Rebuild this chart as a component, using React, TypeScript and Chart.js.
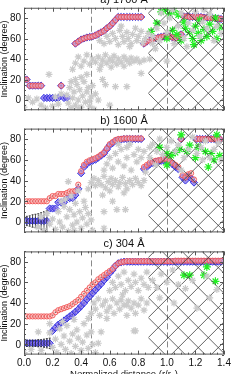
import React, { useEffect, useRef } from "react";
import { Chart, registerables } from "chart.js";
Chart.register(...registerables);

type P = [number, number];

const W = 249;
const H = 374;
const X_MIN = 0;
const X_MAX = 1.4;
const Y_MIN = -10;
const Y_MAX = 90;
const xTicks = [0, 0.2, 0.4, 0.6, 0.8, 1.0, 1.2, 1.4];
const xTickLabels = ["0.0", "0.2", "0.4", "0.6", "0.8", "1.0", "1.2", "1.4"];
const yTicks = [0, 20, 40, 60, 80];
const yTickLabels = ["0", "20", "40", "60", "80"];
const dashedX = [0.47, 1.0];
const hatchStart = 0.87;
const titles = ["a) 1700 Å", "b) 1600 Å", "c) 304 Å"];
const yTitle = "Inclination (degree)";
const xTitle = "Normalized distance (r/r\u2080)";

// ---------- panel a : 1700 ----------
const lineA: P[] = [
  [0.0, 20], [0.018, 20],
  [0.04, 14], [0.06, 14], [0.08, 14], [0.1, 14], [0.12, 14],
  [0.26, 14],
  [0.36, 55], [0.38, 57], [0.4, 59], [0.42, 60], [0.44, 61], [0.46, 61.5], [0.48, 62], [0.5, 63],
  [0.52, 64.5], [0.54, 66], [0.56, 67.5], [0.58, 70], [0.6, 72], [0.62, 75], [0.64, 78], [0.66, 81],
  [0.68, 81], [0.7, 81], [0.72, 81], [0.74, 81], [0.76, 81], [0.78, 81], [0.8, 81], [0.82, 81],
  [0.84, 55], [0.86, 57], [0.88, 58], [0.9, 59], [0.92, 60], [0.94, 61], [0.96, 61.5], [0.98, 62],
  [1.0, 62], [1.02, 62], [1.04, 61], [1.06, 60], [1.08, 62], [1.1, 64],
  [1.12, 81.5], [1.14, 81.5], [1.16, 81], [1.18, 81], [1.2, 81], [1.22, 81], [1.24, 81], [1.26, 80.5],
  [1.28, 80.5], [1.3, 80], [1.32, 80], [1.34, 79.5], [1.36, 79.5], [1.38, 79],
];
const blueOnlyA: P[] = [
  [0.14, 2], [0.16, 2], [0.18, 2], [0.2, 2], [0.22, 2], [0.24, 2], [0.28, 2], [0.3, 2],
];
const grayA: P[] = [
  [0.0, -7], [0.03, 2], [0.06, -2], [0.09, 1], [0.12, -5], [0.15, -8], [0.175, 25], [0.2, -6], [0.22, 3], [0.24, -4], [0.26, 6],
  [0.3, 5], [0.31, -3], [0.32, 12], [0.33, -8], [0.34, 2], [0.35, 8], [0.36, -5], [0.37, 15], [0.38, 0], [0.39, 10],
  [0.4, -7], [0.41, 4], [0.42, 18], [0.43, -2], [0.44, 8], [0.45, 12], [0.46, -6], [0.47, 3], [0.48, 14], [0.49, -9],
  [0.5, 6], [0.52, 0], [0.36, 20], [0.4, 22], [0.44, 25], [0.33, 18], [0.46, -1], [0.38, -9],
  [0.34, 30], [0.36, 36], [0.38, 42], [0.4, 33], [0.42, 38], [0.44, 44], [0.46, 35], [0.48, 40], [0.5, 37], [0.52, 42],
  [0.54, 34], [0.55, 39], [0.57, 44], [0.58, 36], [0.6, 40], [0.62, 38], [0.63, 43], [0.65, 35], [0.66, 40], [0.68, 37],
  [0.7, 42], [0.72, 39], [0.74, 36], [0.75, 41], [0.77, 38], [0.79, 40], [0.81, 37], [0.84, 39], [0.88, 40], [1.0, 38],
  [0.53, 30], [0.61, 32], [0.7, 33],
  [0.53, 58], [0.56, 55], [0.58, 62], [0.6, 57], [0.62, 65], [0.64, 60], [0.66, 54], [0.67, 68], [0.69, 62], [0.7, 57],
  [0.72, 66], [0.73, 60], [0.75, 55], [0.76, 64], [0.78, 70], [0.79, 58], [0.8, 62], [0.82, 67], [0.83, 56], [0.85, 60],
  [0.74, 52], [0.68, 72], [0.87, 65], [0.9, 55],
  [0.57, 15], [0.64, 13], [0.72, 13], [0.82, 26], [0.6, -5], [0.55, 20],
  [0.9, 62], [0.93, 70], [0.95, 58], [0.98, 75], [1.0, 66], [1.02, 80], [1.05, 55], [1.08, 72], [1.1, 85], [1.12, 60],
  [1.15, 75], [1.18, 68], [1.2, 86], [1.23, 62], [1.25, 76], [1.28, 70], [1.3, 84], [1.33, 58], [1.35, 72], [1.38, 65],
  [0.96, 85], [1.04, 88], [1.26, 88], [0.92, 50], [1.14, 52],
];
const greenA: P[] = [
  [0.89, 67], [0.96, 86], [0.99, 88], [1.02, 84], [1.05, 87], [1.08, 83], [1.04, 68], [1.07, 64], [1.1, 58], [1.13, 70],
  [1.16, 66], [1.18, 60], [1.2, 72], [1.22, 65], [1.24, 58], [1.26, 69], [1.28, 62], [1.3, 74], [1.32, 67], [1.35, 60],
  [1.37, 71], [1.12, 76], [1.23, 78], [0.93, 75], [1.0, 60], [1.34, 80], [1.19, 54],
];

// ---------- panel b : 1600 ----------
const redB: P[] = [
  [0.02, 20], [0.04, 20], [0.06, 20], [0.08, 20], [0.1, 20], [0.12, 20], [0.14, 20], [0.16, 20],
  [0.18, 23], [0.2, 25], [0.22, 25], [0.24, 27], [0.26, 27], [0.28, 27], [0.3, 28], [0.32, 29.5], [0.34, 29.5], [0.36, 30], [0.38, 36],
  [0.4, 49], [0.42, 55], [0.44, 58], [0.46, 59.5], [0.48, 60.5], [0.5, 61.5], [0.52, 63], [0.54, 65], [0.56, 67], [0.58, 71],
  [0.6, 75], [0.62, 77], [0.64, 79], [0.66, 80], [0.68, 80], [0.7, 80.5], [0.72, 80.5], [0.74, 80.5], [0.76, 80.5], [0.78, 80.5],
  [0.8, 80.5], [0.82, 80.5],
  [0.84, 53], [0.86, 55], [0.88, 57], [0.9, 58], [0.92, 59], [0.94, 59.5], [0.96, 60], [0.98, 61], [1.0, 60.5], [1.02, 59],
  [1.04, 57], [1.06, 55], [1.08, 53],
  [1.11, 45], [1.13, 43], [1.15, 46], [1.17, 47], [1.19, 41],
  [1.1, 80],
  [1.21, 80], [1.23, 80], [1.25, 80], [1.27, 80], [1.29, 80], [1.31, 80], [1.33, 80], [1.35, 80], [1.37, 80],
];
const blueBLow: P[] = [
  [0.02, 1], [0.04, 1], [0.06, 1], [0.08, 1], [0.1, 1], [0.12, 1], [0.14, 1], [0.16, 1],
];
const errB = [4.5, 5, 6, 6.5, 7, 8, 9, 10];
const blueB: P[] = [
  [0.18, 13], [0.2, 13], [0.22, 13], [0.24, 19], [0.26, 19], [0.28, 19], [0.3, 23], [0.32, 23], [0.34, 23], [0.36, 26], [0.38, 32],
  [0.4, 47], [0.42, 53], [0.44, 56], [0.46, 58], [0.48, 59], [0.5, 60], [0.52, 62], [0.54, 64], [0.56, 66], [0.58, 70],
  [0.6, 74], [0.62, 76], [0.64, 78], [0.66, 79], [0.68, 79.5], [0.7, 80], [0.72, 80], [0.74, 80], [0.76, 80], [0.78, 80],
  [0.8, 80], [0.82, 80],
  [0.84, 51], [0.86, 53], [0.88, 55.5], [0.9, 57], [0.92, 58], [0.94, 58.5], [0.96, 59], [0.98, 59.5], [1.0, 59], [1.02, 57.5],
  [1.04, 55.5], [1.06, 53], [1.08, 51],
  [1.11, 43], [1.13, 40], [1.15, 44], [1.17, 42], [1.19, 38],
  [1.1, 80],
  [1.21, 80], [1.23, 80], [1.25, 80], [1.27, 80], [1.29, 80], [1.31, 80], [1.33, 80], [1.35, 80], [1.37, 80],
];
const grayB: P[] = [
  [0.1, -5], [0.12, 5], [0.14, -8], [0.16, 8], [0.18, -2], [0.2, 3], [0.22, -7], [0.24, 10], [0.25, 0], [0.27, -5],
  [0.28, 15], [0.3, 5], [0.31, -9], [0.32, 12], [0.34, -3], [0.35, 7], [0.36, 18], [0.37, 0], [0.39, 10], [0.4, -6],
  [0.41, 4], [0.43, 14], [0.44, -2], [0.45, 8], [0.47, 2], [0.48, -8], [0.29, 22], [0.33, 25], [0.42, 20], [0.38, 30],
  [0.31, 39], [0.26, 20],
  [0.45, 32], [0.47, 38], [0.49, 42], [0.5, 35], [0.52, 40], [0.54, 36], [0.56, 44], [0.57, 33], [0.59, 39], [0.61, 42],
  [0.62, 36], [0.64, 40], [0.66, 34], [0.67, 38], [0.69, 43], [0.71, 37], [0.72, 32], [0.74, 40], [0.76, 36], [0.78, 42],
  [0.8, 38], [0.82, 35], [0.84, 40], [0.6, 30], [0.7, 28], [0.55, 26],
  [0.56, 50], [0.58, 56], [0.6, 62], [0.62, 52], [0.64, 66], [0.66, 58], [0.68, 70], [0.7, 54], [0.72, 62], [0.74, 75],
  [0.75, 50], [0.77, 65], [0.79, 58], [0.8, 70], [0.82, 62], [0.84, 68], [0.85, 48], [0.72, 72], [0.88, 72], [0.66, 75],
  [0.56, 10], [0.65, 12], [0.71, 12], [0.56, -6], [0.35, -8], [0.62, 20],
  [0.88, 62], [0.9, 75], [0.93, 68], [0.95, 80], [0.97, 65], [1.0, 72], [1.03, 78], [1.06, 68], [1.08, 74], [1.12, 62],
  [1.15, 70], [1.18, 82], [1.21, 66], [1.24, 72], [1.27, 78], [1.3, 62], [1.33, 70], [1.36, 76], [1.38, 60], [0.92, 55],
  [1.25, 60], [1.1, 50],
];
const greenB: P[] = [
  [1.1, 84], [1.35, 84], [1.0, 66], [1.03, 64], [1.06, 67], [1.14, 68], [1.16, 74], [1.22, 72], [1.27, 68], [1.31, 66],
  [1.37, 64], [1.29, 53], [1.0, 55], [1.2, 62], [1.33, 60], [1.09, 70], [0.95, 72],
];

// ---------- panel c : 304 ----------
const redC: P[] = [
  [0.02, 27], [0.04, 27], [0.06, 27], [0.08, 27], [0.1, 27], [0.12, 27], [0.14, 27], [0.16, 27], [0.18, 27],
  [0.2, 28], [0.22, 31], [0.24, 33], [0.26, 34], [0.28, 35], [0.3, 36], [0.32, 37], [0.34, 39], [0.36, 41], [0.38, 43],
  [0.4, 46], [0.42, 49], [0.44, 52], [0.46, 55], [0.48, 58], [0.5, 60], [0.52, 63], [0.54, 65], [0.56, 67], [0.58, 69],
  [0.6, 71], [0.62, 73], [0.64, 76], [0.66, 78.5], [0.68, 79.5], [0.7, 80], [0.72, 80.5], [0.74, 80.5], [0.76, 80.5],
  [0.78, 80.5], [0.8, 80.5], [0.82, 80.5], [0.84, 80.5], [0.86, 80.5], [0.88, 80.5], [0.9, 80.5], [0.92, 80.5], [0.94, 80.5],
  [0.96, 80.5], [0.98, 80.5], [1.0, 80.5], [1.02, 80.5], [1.04, 80.5], [1.06, 81], [1.08, 81], [1.1, 81], [1.12, 81],
  [1.14, 81], [1.16, 81], [1.18, 81], [1.2, 81], [1.22, 81], [1.24, 81], [1.26, 81], [1.28, 81], [1.3, 81], [1.32, 81],
  [1.34, 81], [1.36, 81], [1.38, 81],
];
const blueCLow: P[] = [
  [0.02, 1], [0.04, 1], [0.06, 1], [0.08, 1], [0.1, 1], [0.12, 1], [0.14, 1], [0.16, 1], [0.18, 1],
];
const errC = [3, 3, 3, 3, 3.5, 3.5, 4, 4.5, 5];
const blueC: P[] = [
  [0.2, 13], [0.22, 16], [0.24, 19], [0.26, 21], [0.28, 23], [0.3, 25], [0.32, 27], [0.34, 29], [0.36, 31.5], [0.38, 34],
  [0.4, 37], [0.42, 40], [0.44, 43.5], [0.46, 46.5], [0.48, 49.5], [0.5, 52.5], [0.52, 55.5], [0.54, 58.5], [0.56, 62],
  [0.58, 65], [0.6, 69], [0.62, 72], [0.64, 76], [0.66, 78.5], [0.68, 79.5], [0.7, 80], [0.72, 80], [0.74, 80], [0.76, 80],
  [0.78, 80], [0.8, 80], [0.82, 80], [0.84, 80], [0.86, 80], [0.88, 80], [0.9, 80], [0.92, 80], [0.94, 80], [0.96, 80],
  [0.98, 80], [1.0, 80], [1.02, 80], [1.04, 80], [1.06, 80], [1.08, 80], [1.1, 80], [1.12, 80], [1.14, 80], [1.16, 80],
  [1.18, 80], [1.2, 80], [1.22, 80], [1.24, 80], [1.26, 80], [1.28, 80], [1.3, 80], [1.32, 80], [1.34, 80], [1.36, 80], [1.38, 80],
];
const grayC: P[] = [
  [0.0, -8], [0.05, -5], [0.1, 12], [0.12, -6], [0.18, 20], [0.18, 11], [0.2, -3], [0.22, 5], [0.23, -8], [0.25, 15],
  [0.26, 0], [0.28, 8], [0.29, -5], [0.3, 18], [0.32, 3], [0.33, -9], [0.34, 10], [0.36, -2], [0.37, 14], [0.38, 6],
  [0.4, -6], [0.41, 2], [0.42, 20], [0.44, 9], [0.45, -4], [0.47, 12], [0.48, 0], [0.5, -8], [0.35, 24], [0.27, 22],
  [0.47, 30], [0.49, 40], [0.5, 34], [0.52, 44], [0.53, 28], [0.55, 38], [0.57, 42], [0.58, 32], [0.6, 36], [0.62, 44],
  [0.63, 30], [0.65, 40], [0.67, 34], [0.68, 43], [0.7, 38], [0.72, 28], [0.73, 42], [0.75, 35], [0.77, 40], [0.78, 30],
  [0.8, 38], [0.82, 44], [0.84, 33], [0.86, 40], [0.45, 25], [0.58, 25],
  [0.6, 52], [0.62, 60], [0.64, 55], [0.66, 66], [0.68, 58], [0.7, 70], [0.71, 52], [0.73, 62], [0.75, 56], [0.77, 68],
  [0.78, 60], [0.8, 52], [0.82, 64], [0.84, 58], [0.86, 70], [0.87, 55], [0.72, 38], [0.69, 48],
  [0.54, 12], [0.78, 13], [0.52, 1], [0.77, 13],
  [0.9, 62], [0.93, 55], [0.96, 68], [1.0, 60], [1.04, 72], [1.08, 58], [1.13, 54], [1.21, 35], [1.28, 66], [1.35, 53],
  [1.18, 62], [1.3, 45], [0.95, 45], [1.05, 40],
];
const greenC: P[] = [[1.12, 67], [1.16, 67], [1.26, 67], [1.28, 75], [1.34, 61]];

interface Panel {
  title: string;
  top: number;
  bottom: number;
  gray: P[];
  green: P[];
  red: P[];
  blue: P[];
  low: P[];
  err: number[];
  showX: boolean;
}

const panels: Panel[] = [
  { title: titles[0], top: 7.75, bottom: 110.25, gray: grayA, green: greenA, red: lineA, blue: [...lineA, ...blueOnlyA], low: [], err: [], showX: false },
  { title: titles[1], top: 128.6, bottom: 232.4, gray: grayB, green: greenB, red: redB, blue: [...blueBLow, ...blueB], low: blueBLow, err: errB, showX: false },
  { title: titles[2], top: 251.4, bottom: 354.6, gray: grayC, green: greenC, red: redC, blue: [...blueCLow, ...blueC], low: blueCLow, err: errC, showX: true },
];

const FONT = "'Liberation Sans', Arial, Helvetica, sans-serif";
const toXY = (a: P[]) => a.map(([x, y]) => ({ x, y }));

function makePlugin(p: Panel) {
  return {
    id: "idlPanel",
    beforeDatasetsDraw(chart: any) {
      const { ctx, chartArea: a, scales } = chart;
      ctx.save();
      ctx.beginPath();
      ctx.rect(a.left, a.top, a.right - a.left, a.bottom - a.top);
      ctx.clip();
      ctx.strokeStyle = "#8a8a8a";
      ctx.lineWidth = 1;
      ctx.setLineDash([6, 3]);
      for (const v of dashedX) {
        const px = Math.round(scales.x.getPixelForValue(v)) + 0.5;
        ctx.beginPath();
        ctx.moveTo(px, a.top);
        ctx.lineTo(px, a.bottom);
        ctx.stroke();
      }
      ctx.restore();
    },
    afterDatasetDraw(chart: any, args: any) {
      if (args.index !== 1) return;
      const { ctx, chartArea: a, scales } = chart;
      const xl = scales.x.getPixelForValue(hatchStart);
      const xr = a.right;
      ctx.save();
      ctx.beginPath();
      ctx.rect(xl, a.top, xr - xl, a.bottom - a.top);
      ctx.clip();
      ctx.strokeStyle = "#3c3c3c";
      ctx.lineWidth = 0.8;
      const S = 20;
      const y0 = a.bottom - 17;
      const w = xr - xl;
      ctx.beginPath();
      for (let k = -12; k <= 12; k++) {
        const yy = y0 + k * S;
        ctx.moveTo(xl, yy);
        ctx.lineTo(xr, yy - w);
        ctx.moveTo(xl, yy);
        ctx.lineTo(xr, yy + w);
      }
      ctx.stroke();
      ctx.restore();
      ctx.save();
      ctx.beginPath();
      ctx.rect(a.left, a.top, a.right - a.left, a.bottom - a.top);
      ctx.clip();
      ctx.strokeStyle = "#222";
      ctx.lineWidth = 0.8;
      ctx.beginPath();
      p.low.forEach(([x, y], i) => {
        const e = p.err[i];
        const px = scales.x.getPixelForValue(x);
        const yt = scales.y.getPixelForValue(y + e);
        const yb = scales.y.getPixelForValue(y - e);
        ctx.moveTo(px, yt);
        ctx.lineTo(px, yb);
        ctx.moveTo(px - 1, yt);
        ctx.lineTo(px + 1, yt);
        ctx.moveTo(px - 1, yb);
        ctx.lineTo(px + 1, yb);
      });
      ctx.stroke();
      ctx.restore();
    },
    afterDraw(chart: any) {
      const { ctx, chartArea: a, scales } = chart;
      const xs = scales.x;
      const ys = scales.y;
      ctx.save();
      ctx.strokeStyle = "#555";
      ctx.lineWidth = 1;
      ctx.strokeRect(a.left + 0.5, a.top + 0.5, a.right - a.left - 1, a.bottom - a.top - 1);
      ctx.beginPath();
      for (let v = X_MIN; v <= X_MAX + 1e-9; v += 0.05) {
        const isMajor = xTicks.some((t) => Math.abs(t - v) < 1e-6);
        const len = isMajor ? 4 : 2;
        const px = Math.round(xs.getPixelForValue(v)) + 0.5;
        ctx.moveTo(px, a.bottom);
        ctx.lineTo(px, a.bottom - len);
        ctx.moveTo(px, a.top);
        ctx.lineTo(px, a.top + len);
      }
      for (let v = Y_MIN; v <= Y_MAX + 1e-9; v += 5) {
        const isMajor = yTicks.some((t) => Math.abs(t - v) < 1e-6);
        const len = isMajor ? 4 : 2;
        const py = Math.round(ys.getPixelForValue(v)) + 0.5;
        ctx.moveTo(a.left, py);
        ctx.lineTo(a.left + len, py);
        ctx.moveTo(a.right, py);
        ctx.lineTo(a.right - len, py);
      }
      ctx.stroke();
      ctx.fillStyle = "#111";
      ctx.font = `10px ${FONT}`;
      ctx.textAlign = "right";
      ctx.textBaseline = "middle";
      yTicks.forEach((v, i) => {
        ctx.fillText(yTickLabels[i], a.left - 3, ys.getPixelForValue(v) + 0.5);
      });
      if (p.showX) {
        ctx.textAlign = "center";
        ctx.textBaseline = "top";
        xTicks.forEach((v, i) => {
          ctx.fillText(xTickLabels[i], xs.getPixelForValue(v), a.bottom + 4);
        });
        ctx.font = `9.5px ${FONT}`;
        ctx.textBaseline = "alphabetic";
        ctx.fillText(xTitle, (a.left + a.right) / 2, a.bottom + 22);
      }
      ctx.font = `11px ${FONT}`;
      ctx.textAlign = "center";
      ctx.textBaseline = "alphabetic";
      ctx.fillText(p.title, (a.left + a.right) / 2, a.top - 4.5);
      ctx.save();
      ctx.translate(4.5, (a.top + a.bottom) / 2);
      ctx.rotate(-Math.PI / 2);
      ctx.font = `9px ${FONT}`;
      ctx.textAlign = "center";
      ctx.textBaseline = "middle";
      ctx.fillText(yTitle, 0, 0);
      ctx.restore();
      ctx.restore();
    },
  };
}

function PanelChart({ p }: { p: Panel }) {
  const ref = useRef<HTMLCanvasElement | null>(null);
  useEffect(() => {
    if (!ref.current) return;
    const dots = [...p.red, ...p.blue];
    const chart = new Chart(ref.current, {
      type: "scatter",
      data: {
        datasets: [
          { data: toXY(p.gray), pointStyle: "star", pointRadius: 3.5, borderColor: "#cacaca", backgroundColor: "#cacaca", borderWidth: 1.2, showLine: false },
          { data: toXY(p.green), pointStyle: "star", pointRadius: 4, borderColor: "#22ee22", backgroundColor: "#22ee22", borderWidth: 1.2, showLine: false },
          { data: toXY(p.red), pointStyle: "circle", pointRadius: 2.6, borderColor: "rgba(240,80,80,0.85)", backgroundColor: "rgba(255,185,185,0.5)", borderWidth: 1, showLine: false },
          { data: toXY(p.blue), pointStyle: "rectRot", pointRadius: 3.6, borderColor: "rgb(50,50,225)", backgroundColor: "rgba(125,105,235,0.75)", borderWidth: 1, showLine: false },
          { data: toXY(dots), pointStyle: "circle", pointRadius: 0.8, borderWidth: 0, backgroundColor: "#000", showLine: false },
        ] as any,
      },
      options: {
        animation: false,
        responsive: false,
        maintainAspectRatio: false,
        events: [],
        layout: { padding: { left: 24, right: W - 224, top: p.top, bottom: H - p.bottom } },
        scales: {
          x: { type: "linear", min: X_MIN, max: X_MAX, display: false },
          y: { type: "linear", min: Y_MIN, max: Y_MAX, display: false },
        },
        plugins: { legend: { display: false }, tooltip: { enabled: false }, title: { display: false } },
      } as any,
      plugins: [makePlugin(p)],
    });
    return () => chart.destroy();
  }, [p]);
  return (
    <canvas
      ref={ref}
      width={W}
      height={H}
      style={{ position: "absolute", left: 0, top: 0, width: W, height: H }}
    />
  );
}

export default function App() {
  return (
    <div style={{ position: "absolute", left: 0, top: 0, width: W, height: H, background: "#fff", overflow: "hidden" }}>
      {panels.map((p, i) => (
        <PanelChart key={i} p={p} />
      ))}
    </div>
  );
}
